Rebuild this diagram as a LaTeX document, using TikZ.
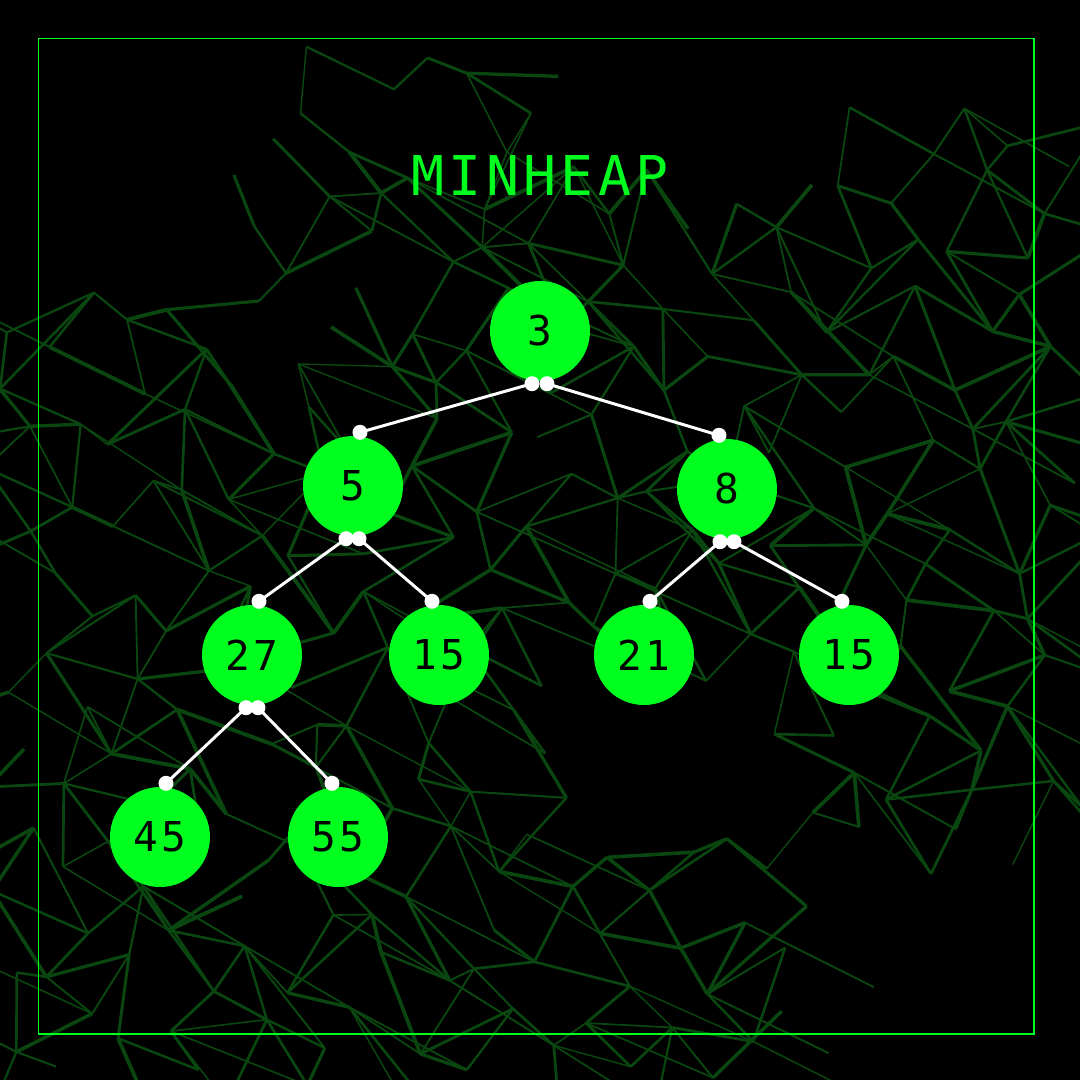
\documentclass[tikz,border=0pt]{standalone}
\usepackage{fontspec}
\newfontfamily\heapfont[LetterSpace=8]{DejaVu Sans Mono}
\usetikzlibrary{calc}
\definecolor{neon}{HTML}{00FF1E}
\definecolor{net}{HTML}{0A4710}
\tikzset{
  hnode/.style={circle, fill=neon, minimum size=10mm, inner sep=0pt, text=black,
    font=\heapfont\fontsize{11.7}{13}\selectfont},
  hedge/.style={draw=white, line width=0.85pt},
  hdot/.style={fill=white},
  netline/.style={draw=net}
}
\begin{document}
\begin{tikzpicture}[x=0.1mm,y=-0.1mm]
\fill[black] (0,0) rectangle (1080,1080);
\useasboundingbox (0,0) rectangle (1080,1080);
% background network
\foreach \i in {-1,...,19}{\foreach \j in {-1,...,19}{
  \pgfmathsetmacro\gx{\i*60+10+24*sin(\i*97.3+\j*211.9+13)}
  \pgfmathsetmacro\gy{\j*60+10+24*cos(\i*157.1+\j*59.7+41)}
  \coordinate (g-\i-\j) at (\gx,\gy);
}}
\begin{scope}
\clip (0,0) rectangle (1080,1080);
\foreach \i in {-1,...,17}{\foreach \j in {-1,...,17}{
  \pgfmathtruncatemacro\ni{\i+1}
  \pgfmathtruncatemacro\nni{\i+2}
  \pgfmathtruncatemacro\nj{\j+1}
  \pgfmathsetmacro\cx{\i*60+40}
  \pgfmathsetmacro\cy{\j*60+40}
  \pgfmathtruncatemacro\m{(((\cx<250)&&(\cy<290))||(\cy<50)||((\cx>560)&&(\cx<830)&&(\cy<215))||((\cx>830)&&(\cy<120))||((\cx>570)&&(\cx<790)&&(\cy>690)&&(\cy<870))||((\cx>780)&&(\cy>870)))?1:0}
  \ifnum\m=0
    \pgfmathsetmacro\ra{frac(abs(437.5453*sin(\i*127.1+\j*311.7)))}
    \pgfmathsetmacro\rb{frac(abs(351.2731*sin(\i*269.5+\j*183.3+7)))}
    \pgfmathsetmacro\rc{frac(abs(283.9137*sin(\i*419.2+\j*371.9+3)))}
    \pgfmathsetmacro\rd{frac(abs(193.7411*sin(\i*53.7+\j*97.1+11)))}
    \pgfmathsetmacro\wa{0.4+0.7*\rd}
    \pgfmathsetmacro\wb{0.4+0.7*\ra}
    \pgfmathsetmacro\wc{0.4+0.7*\rb}
    \ifdim\ra pt<0.62pt \draw[netline, line width=\wa pt] (g-\i-\j) -- (g-\ni-\j); \fi
    \ifdim\rb pt<0.62pt \draw[netline, line width=\wb pt] (g-\i-\j) -- (g-\i-\nj); \fi
    \ifdim\rc pt<0.5pt \draw[netline, line width=\wc pt] (g-\i-\j) -- (g-\ni-\nj); \fi
    \ifdim\rd pt<0.25pt \draw[netline, line width=\wa pt] (g-\i-\j) -- (g-\nni-\nj); \fi
    \ifdim\rc pt>0.8pt \draw[netline, line width=\wb pt] (g-\i-\nj) -- (g-\ni-\j); \fi
  \fi
}}
\end{scope}
% frame
\draw[neon, line width=0.45pt] (38.5,38.5) rectangle (1034,1034);
% title
\node[text=neon, font=\heapfont\fontsize{15.6}{18}\selectfont] (title) at (540,175) {MINHEAP};
% nodes
\node[hnode] (n3) at (540,331) {3};
\node[hnode] (n5) at (353,486) {5};
\node[hnode] (n8) at (727,489) {8};
\node[hnode] (n27) at (252,655) {27};
\node[hnode] (n15a) at (439,655) {15};
\node[hnode] (n21) at (644,655) {21};
\node[hnode] (n15b) at (849,655) {15};
\node[hnode] (n45) at (160,837) {45};
\node[hnode] (n55) at (338,837) {55};
% edges
\newcommand\heapedge[4]{%
  \draw[hedge] ($(#1.south)+(#3,2)$) coordinate (#1-#2-p) -- ($(#2.north)+(#4,-3)$) coordinate (#1-#2-c);
  \fill[hdot] (#1-#2-p) circle (0.75mm);
  \fill[hdot] (#1-#2-c) circle (0.75mm);
}
\heapedge{n3}{n5}{-8}{7}
\heapedge{n3}{n8}{7}{-8}
\heapedge{n5}{n27}{-7}{7}
\heapedge{n5}{n15a}{6}{-7}
\heapedge{n8}{n21}{-7}{6}
\heapedge{n8}{n15b}{7}{-7}
\heapedge{n27}{n45}{-6}{6}
\heapedge{n27}{n55}{6}{-6}
\end{tikzpicture}
\end{document}
